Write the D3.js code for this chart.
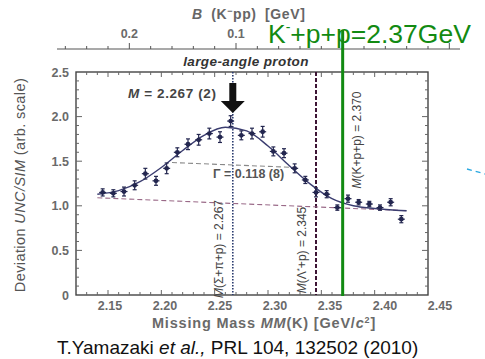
<!DOCTYPE html>
<html>
<head>
<meta charset="utf-8">
<script src="https://cdn.jsdelivr.net/npm/d3@7"></script>
<style>
  html, body { margin: 0; padding: 0; background: #fff; }
  svg { display: block; }
  text { font-family: "Liberation Sans", Arial, sans-serif; }
</style>
</head>
<body>
<svg id="chart" width="485" height="359"></svg>
<script>
// measured points (missing mass, deviation, error)
const massPoints = [2.145, 2.155, 2.165, 2.175, 2.185, 2.195, 2.205, 2.215, 2.225, 2.235,
  2.245, 2.255, 2.265, 2.275, 2.285, 2.295, 2.305, 2.315, 2.325, 2.335,
  2.345, 2.355, 2.365, 2.375, 2.385, 2.395, 2.405, 2.415, 2.425];
const deviation = [1.15, 1.14, 1.16, 1.23, 1.36, 1.28, 1.42, 1.60, 1.69, 1.74,
  1.81, 1.77, 1.95, 1.79, 1.81, 1.83, 1.61, 1.59, 1.42, 1.29,
  1.15, 1.13, 0.98, 1.08, 1.04, 1.02, 0.98, 1.04, 0.85];
const errors = [0.04, 0.04, 0.05, 0.05, 0.06, 0.05, 0.06, 0.05, 0.06, 0.06,
  0.06, 0.06, 0.06, 0.05, 0.06, 0.06, 0.05, 0.05, 0.05, 0.04,
  0.05, 0.04, 0.03, 0.04, 0.03, 0.03, 0.03, 0.04, 0.04];

// fitted curve and background
const fitMass = [2.14, 2.16, 2.18, 2.20, 2.22, 2.24, 2.26, 2.28, 2.30, 2.32, 2.34, 2.36, 2.38, 2.40, 2.42, 2.43];
const fitValues = [1.13, 1.17, 1.27, 1.43, 1.62, 1.79, 1.88, 1.84, 1.67, 1.45, 1.24, 1.08, 1.00, 0.97, 0.95, 0.945];
const bgMass = [2.14, 2.43];
const bgValues = [1.09, 0.945];
const halfMass = [2.21, 2.325];
const halfValues = [1.485, 1.43];

// threshold / peak markers
const peakMass = 2.267;
const lambdaMass = 2.345;
const kppMass = 2.37;

const xTicks = [2.15, 2.20, 2.25, 2.30, 2.35, 2.40, 2.45];
const yTicks = [0, 0.5, 1.0, 1.5, 2.0, 2.5];
const bTicks = [0.2, 0.1];

const svg = d3.select("#chart");
const x = d3.scaleLinear().domain([2.12, 2.45]).range([76, 428]);
const xLabel = d3.scaleLinear().domain([2.15, 2.45]).range([110, 440]);
const y = d3.scaleLinear().domain([0, 2.5]).range([295, 72]);
const bToX = (b) => x(2.37 - b);

const grey = "#555";
const ink = "#23264f";

// frame
svg.append("rect")
  .attr("x", x(2.12)).attr("y", y(2.5))
  .attr("width", x(2.45) - x(2.12)).attr("height", y(0) - y(2.5))
  .attr("fill", "none").attr("stroke", "#444").attr("stroke-width", 1.4);

// inner ticks on all four sides
const xMinor = d3.range(2.13, 2.445, 0.01);
const yMinor = d3.range(0.1, 2.45, 0.1);
const ticks = svg.append("g").attr("stroke", "#666").attr("stroke-width", 1);
xMinor.forEach((m) => {
  const major = Math.abs(m * 20 - Math.round(m * 20)) < 1e-6;
  const len = major ? 5 : 3;
  ticks.append("line").attr("x1", x(m)).attr("x2", x(m)).attr("y1", y(0)).attr("y2", y(0) - len);
  ticks.append("line").attr("x1", x(m)).attr("x2", x(m)).attr("y1", y(2.5)).attr("y2", y(2.5) + len);
});
yMinor.forEach((v) => {
  const major = Math.abs(v * 2 - Math.round(v * 2)) < 1e-6;
  const len = major ? 6 : 3;
  ticks.append("line").attr("x1", x(2.12)).attr("x2", x(2.12) + len).attr("y1", y(v)).attr("y2", y(v));
  ticks.append("line").attr("x1", x(2.45)).attr("x2", x(2.45) - len).attr("y1", y(v)).attr("y2", y(v));
});

// tick labels
svg.append("g").selectAll("text").data(xTicks).join("text")
  .attr("x", (d) => xLabel(d)).attr("y", 310)
  .attr("text-anchor", "middle").attr("font-size", 12.5).attr("font-weight", "bold")
  .attr("fill", "#6a6a6a").text((d) => d.toFixed(2));
svg.append("g").selectAll("text").data(yTicks).join("text")
  .attr("x", 69).attr("y", (d) => y(d) + 4.5)
  .attr("text-anchor", "end").attr("font-size", 12.5).attr("font-weight", "bold")
  .attr("fill", "#6a6a6a").text((d) => (d === 0 ? "0" : d.toFixed(1)));

// top binding-energy axis
const topY = 49;
svg.append("line").attr("x1", 57).attr("x2", 460).attr("y1", topY).attr("y2", topY)
  .attr("stroke", "#555").attr("stroke-width", 1.2);
d3.range(-0.1, 0.27, 0.02).forEach((b) => {
  const major = Math.abs(b * 10 - Math.round(b * 10)) < 1e-6;
  svg.append("line").attr("x1", bToX(b)).attr("x2", bToX(b))
    .attr("y1", topY).attr("y2", topY - (major ? 6 : 3))
    .attr("stroke", "#555").attr("stroke-width", 1);
});
svg.append("g").selectAll("text").data(bTicks).join("text")
  .attr("x", (d) => bToX(d)).attr("y", 38)
  .attr("text-anchor", "middle").attr("font-size", 12.5).attr("font-weight", "bold")
  .attr("fill", "#6a6a6a").text((d) => d.toFixed(1));

const topTitle = svg.append("text").attr("x", 192).attr("y", 19)
  .attr("font-size", 14).attr("font-weight", "bold").attr("fill", "#666")
  .attr("letter-spacing", 0.6).attr("word-spacing", 4);
topTitle.append("tspan").attr("font-style", "italic").text("B");
topTitle.append("tspan").text(" (K");
topTitle.append("tspan").attr("dy", -5).attr("font-size", 9).text("−");
topTitle.append("tspan").attr("dy", 5).text("pp)  [GeV]");

svg.append("text").attr("x", 246).attr("y", 66).attr("text-anchor", "middle")
  .attr("font-size", 13.5).attr("font-weight", "bold").attr("font-style", "italic")
  .attr("letter-spacing", 0.4).attr("fill", "#333").text("large-angle proton");

// axis titles
const yTitle = svg.append("text")
  .attr("transform", "translate(25,185) rotate(-90)")
  .attr("text-anchor", "middle").attr("font-size", 14.5).attr("fill", grey)
  .attr("letter-spacing", 0.4);
yTitle.append("tspan").text("Deviation ");
yTitle.append("tspan").attr("font-style", "italic").text("UNC/SIM");
yTitle.append("tspan").text(" (arb. scale)");

const xTitle = svg.append("text").attr("x", 264).attr("y", 328)
  .attr("text-anchor", "middle").attr("font-size", 14.5).attr("font-weight", "bold").attr("fill", "#6a6a6a")
  .attr("letter-spacing", 0.8);
xTitle.append("tspan").text("Missing Mass   ");
xTitle.append("tspan").attr("font-style", "italic").text("MM");
xTitle.append("tspan").text("(K)   [GeV/");
xTitle.append("tspan").attr("font-style", "italic").text("c");
xTitle.append("tspan").attr("dy", -5).attr("font-size", 9).text("2");
xTitle.append("tspan").attr("dy", 5).text("]");

// vertical reference lines
svg.append("line").attr("x1", x(peakMass)).attr("x2", x(peakMass))
  .attr("y1", y(2.5)).attr("y2", y(0))
  .attr("stroke", "#2c3d70").attr("stroke-width", 1.6).attr("stroke-dasharray", "1.5,1.5");
svg.append("line").attr("x1", x(lambdaMass)).attr("x2", x(lambdaMass))
  .attr("y1", y(2.5)).attr("y2", y(0))
  .attr("stroke", "#3e1535").attr("stroke-width", 2).attr("stroke-dasharray", "4,2");

// background and half-maximum lines
const line = d3.line().x((d) => x(d[0])).y((d) => y(d[1]));
svg.append("path").attr("d", line(d3.zip(bgMass, bgValues)))
  .attr("fill", "none").attr("stroke", "#9a6a88").attr("stroke-width", 1.1).attr("stroke-dasharray", "5,3");
svg.append("path").attr("d", line(d3.zip(halfMass, halfValues)))
  .attr("fill", "none").attr("stroke", "#888").attr("stroke-width", 1.1).attr("stroke-dasharray", "5,3");

// fit curve
svg.append("path").attr("d", line.curve(d3.curveMonotoneX)(d3.zip(fitMass, fitValues)))
  .attr("fill", "none").attr("stroke", "#3b3d70").attr("stroke-width", 1.4);

// data points with error bars
const pts = svg.append("g").selectAll("g").data(d3.zip(massPoints, deviation, errors)).join("g")
  .attr("stroke", ink).attr("stroke-width", 1.2);
pts.append("line").attr("x1", (d) => x(d[0])).attr("x2", (d) => x(d[0]))
  .attr("y1", (d) => y(d[1] - d[2])).attr("y2", (d) => y(d[1] + d[2]));
pts.append("line").attr("x1", (d) => x(d[0]) - 2).attr("x2", (d) => x(d[0]) + 2)
  .attr("y1", (d) => y(d[1] + d[2])).attr("y2", (d) => y(d[1] + d[2]));
pts.append("line").attr("x1", (d) => x(d[0]) - 2).attr("x2", (d) => x(d[0]) + 2)
  .attr("y1", (d) => y(d[1] - d[2])).attr("y2", (d) => y(d[1] - d[2]));
pts.append("line").attr("x1", (d) => x(d[0]) - 3.5).attr("x2", (d) => x(d[0]) + 3.5)
  .attr("y1", (d) => y(d[1])).attr("y2", (d) => y(d[1]));
pts.append("circle").attr("cx", (d) => x(d[0])).attr("cy", (d) => y(d[1])).attr("r", 2.4)
  .attr("fill", ink).attr("stroke", "none");

// peak arrow
const ax = x(peakMass);
svg.append("path")
  .attr("d", `M${ax - 3.5},${83} L${ax + 3.5},${83} L${ax + 3.5},${101} L${ax + 12},${101} L${ax},${113} L${ax - 12},${101} L${ax - 3.5},${101} Z`)
  .attr("fill", "#111");

// annotations
const mText = svg.append("text").attr("x", 128).attr("y", 98)
  .attr("font-size", 13.5).attr("font-weight", "bold").attr("fill", "#444")
  .attr("letter-spacing", 0.6);
mText.append("tspan").attr("font-style", "italic").text("M");
mText.append("tspan").text(" = 2.267 (2)");

svg.append("text").attr("x", 213).attr("y", 178)
  .attr("font-size", 12.5).attr("font-weight", "bold").attr("fill", "#555").text("Γ = 0.118 (8)");

function rotatedLabel(cx, cy, parts) {
  const t = svg.append("text")
    .attr("transform", `translate(${cx},${cy}) rotate(-90)`)
    .attr("text-anchor", "middle").attr("font-size", 12).attr("fill", "#444");
  parts.forEach(([s, italic, sup]) => {
    const span = t.append("tspan").text(s);
    if (italic) span.attr("font-style", "italic");
    if (sup) span.attr("dy", -4).attr("font-size", 8);
  });
  return t;
}
rotatedLabel(x(peakMass) - 10, 249, [["M", true], ["(Σ+π+p) = 2.267"]]);
const t2 = rotatedLabel(x(lambdaMass) - 10, 250, [["M", true], ["(Λ"], ["*", false, true]]);
t2.append("tspan").attr("dy", 4).text("+p) = 2.345");
rotatedLabel(x(kppMass) + 18, 140, [["M", true], ["(K+p+p) = 2.370"]]);

// green K-pp threshold
svg.append("line").attr("x1", x(kppMass)).attr("x2", x(kppMass))
  .attr("y1", 30).attr("y2", y(0) + 1)
  .attr("stroke", "#128a12").attr("stroke-width", 3);
const gText = svg.append("text").attr("x", 268).attr("y", 43)
  .attr("font-family", "'Open Sans', sans-serif").attr("font-size", 26.5).attr("fill", "#128a12");
gText.append("tspan").text("K");
gText.append("tspan").attr("dy", -11).attr("font-size", 14).text("-");
gText.append("tspan").attr("dy", 11).text("+p+p=2.37GeV");

// small cyan stroke at the right edge
svg.append("line").attr("x1", 467).attr("y1", 169).attr("x2", 485).attr("y2", 174)
  .attr("stroke", "#2aa8e0").attr("stroke-width", 1.3).attr("stroke-dasharray", "5,4");

// citation
const cite = svg.append("text").attr("x", 57).attr("y", 354)
  .attr("font-family", "'Open Sans', sans-serif").attr("font-size", 19).attr("fill", "#111");
cite.append("tspan").text("T.Yamazaki ");
cite.append("tspan").attr("font-style", "italic").text("et al.,");
cite.append("tspan").text(" PRL 104, 132502 (2010)");
</script>
</body>
</html>
